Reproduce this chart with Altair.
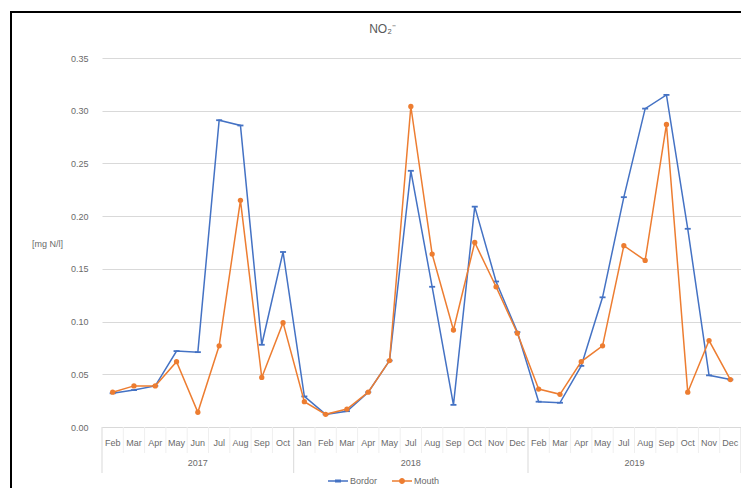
import altair as alt
import pandas as pd

# ---- data ----
months_2017 = ["Feb", "Mar", "Apr", "May", "Jun", "Jul", "Aug", "Sep", "Oct"]
months_2018 = ["Jan", "Feb", "Mar", "Apr", "May", "Jul", "Aug", "Sep", "Oct", "Nov", "Dec"]
months_2019 = ["Feb", "Mar", "Apr", "May", "Jul", "Aug", "Sep", "Oct", "Nov", "Dec"]
years = ["2017", "2018", "2019"]

bordor = [0.032, 0.035, 0.039, 0.072, 0.071, 0.291, 0.286, 0.078, 0.166,
          0.029, 0.012, 0.015, 0.033, 0.063, 0.243, 0.133, 0.021, 0.209, 0.138, 0.090,
          0.024, 0.023, 0.058, 0.123, 0.218, 0.302, 0.315, 0.188, 0.049, 0.045]
mouth = [0.033, 0.039, 0.039, 0.062, 0.014, 0.077, 0.215, 0.047, 0.099,
         0.024, 0.012, 0.017, 0.033, 0.063, 0.304, 0.164, 0.092, 0.175, 0.133, 0.089,
         0.036, 0.031, 0.062, 0.077, 0.172, 0.158, 0.287, 0.033, 0.082, 0.045]

series_names = ["Bordor", "Mouth"]
colors = ["#4472C4", "#ED7D31"]

# ---- tables ----
cats, cat_year = [], []
for y, ms in zip(years, [months_2017, months_2018, months_2019]):
    for m in ms:
        cats.append(f"{m} {y}")
        cat_year.append(y)

rows = []
for i, c in enumerate(cats):
    rows.append({"cat": c, "series": "Bordor", "value": bordor[i]})
    rows.append({"cat": c, "series": "Mouth", "value": mouth[i]})
df = pd.DataFrame(rows)

cat_df = pd.DataFrame({"cat": cats, "year": cat_year})
first_of_year = cat_df.groupby("year").head(1)
month_sep = cat_df[~cat_df["cat"].isin(first_of_year["cat"])]
year_sep = first_of_year
last_cat = cat_df.tail(1)

# year label anchors (middle of each group)
year_lbl_a = pd.DataFrame({"cat": ["Jun 2017", "Jul 2018"], "year": ["2017", "2018"]})
year_lbl_b = pd.DataFrame({"cat": ["Jul 2019"], "year": ["2019"]})

W, H = 639, 369
TXT = "#6a6a6a"
FONT = "Liberation Sans"

xsc = alt.Scale(domain=cats, paddingInner=0, paddingOuter=0)
ysc = alt.Scale(domain=[0, 0.35], nice=False)

x_axis = alt.Axis(labelExpr="split(datum.label, ' ')[0]", labelAngle=0,
                  ticks=False, domain=True, domainColor="#D9D9D9",
                  labelFontSize=9, labelColor=TXT, labelPadding=11,
                  labelOverlap=False, labelBound=False, grid=False,
                  labelFont=FONT, title=None)
y_axis = alt.Axis(values=[0, 0.05, 0.1, 0.15, 0.2, 0.25, 0.3, 0.35],
                  format=".2f", domain=False, ticks=False,
                  gridColor="#D9D9D9", labelFontSize=9, labelColor=TXT,
                  labelPadding=14, labelFont=FONT,
                  title="[mg N/l]", titleAngle=0, titleX=-55, titleY=185,
                  titleAlign="center", titleBaseline="middle",
                  titleFontSize=9, titleFontWeight="normal",
                  titleColor=TXT, titleFont=FONT)


def X(bp=None):
    if bp is None:
        return alt.X("cat:N", sort=cats, scale=xsc, axis=x_axis)
    return alt.X("cat:N", sort=cats, scale=xsc, axis=x_axis, bandPosition=bp)


def Y():
    return alt.Y("value:Q", scale=ysc, axis=y_axis)


one = pd.DataFrame({"k": [0]})
# chart frame (top and left edges; the rest lies outside the picture)
frame_top = alt.Chart(one).mark_rect(color="black").encode(
    x=alt.value(-92), x2=alt.value(W + 10), y=alt.value(-47), y2=alt.value(-45))
frame_left = alt.Chart(one).mark_rect(color="black").encode(
    x=alt.value(-92), x2=alt.value(-90), y=alt.value(-47), y2=alt.value(H + 70))

msep = alt.Chart(month_sep).mark_rule(color="#EFEFEF", strokeWidth=1).encode(
    x=X(0), y=alt.value(H), y2=alt.value(H + 26))

ysep = alt.Chart(year_sep).mark_rule(color="#D9D9D9", strokeWidth=1).encode(
    x=X(0), y=alt.value(H), y2=alt.value(H + 46))

yend = alt.Chart(last_cat).mark_rule(color="#D9D9D9", strokeWidth=1).encode(
    x=X(1), y=alt.value(H), y2=alt.value(H + 46))

ylab_a = alt.Chart(year_lbl_a).mark_text(fontSize=9, color=TXT, font=FONT, baseline="middle").encode(
    x=X(), y=alt.value(H + 36), text="year:N")
ylab_b = alt.Chart(year_lbl_b).mark_text(fontSize=9, color=TXT, font=FONT, baseline="middle").encode(
    x=X(1), y=alt.value(H + 36), text="year:N")

base = alt.Chart(df)

dash_path = "M-1,-0.3L1,-0.3L1,0.3L-1,0.3Z"

b_line = base.transform_filter("datum.series == 'Bordor'").mark_line(
    color=colors[0], strokeWidth=1.5).encode(x=X(), y=Y())
b_pts = base.transform_filter("datum.series == 'Bordor'").mark_point(
    shape=dash_path, filled=True, size=36, color=colors[0], opacity=1).encode(x=X(), y=Y())
m_line = base.transform_filter("datum.series == 'Mouth'").mark_line(
    color=colors[1], strokeWidth=1.5).encode(x=X(), y=Y())
m_pts = base.transform_filter("datum.series == 'Mouth'").mark_point(
    shape="circle", filled=True, size=28, color=colors[1], opacity=1).encode(x=X(), y=Y())

leg_line = "M-1,-0.07L1,-0.07L1,0.07L-1,0.07Z"
leg_b = leg_line + "M-0.3,-0.14L0.3,-0.14L0.3,0.14L-0.3,0.14Z"
leg_m = leg_line + "M0.3,0A0.3,0.3,0,1,1,-0.3,0A0.3,0.3,0,1,1,0.3,0Z"

leg_opts = dict(title=None, orient="none", direction="horizontal",
                legendX=226, legendY=413, symbolSize=400,
                symbolStrokeWidth=0, labelFontSize=9,
                labelColor=TXT, labelFont=FONT, columnPadding=14,
                labelOffset=2)

legend_layer = base.transform_filter("false").mark_point(filled=True, opacity=1).encode(
    color=alt.Color("series:N", scale=alt.Scale(domain=series_names, range=colors),
                    legend=alt.Legend(**leg_opts)),
    shape=alt.Shape("series:N", scale=alt.Scale(domain=series_names, range=[leg_b, leg_m]),
                    legend=alt.Legend(**leg_opts)),
)

chart = alt.layer(
    frame_top, frame_left, msep, ysep, yend, ylab_a, ylab_b,
    b_line, b_pts, m_line, m_pts, legend_layer
).properties(
    width=W, height=H,
    autosize=alt.AutoSizeParams(type="none"),
    padding={"left": 94, "top": 50, "right": 0, "bottom": 61},
    title=alt.Title("NO₂⁻", fontSize=12, color="#595959", fontWeight="normal",
                    anchor="middle", dx=-39, dy=29, font=FONT),
).configure(background="white").configure_view(stroke=None)

chart.save("out.html", embed_options={"renderer": "svg", "actions": False})
